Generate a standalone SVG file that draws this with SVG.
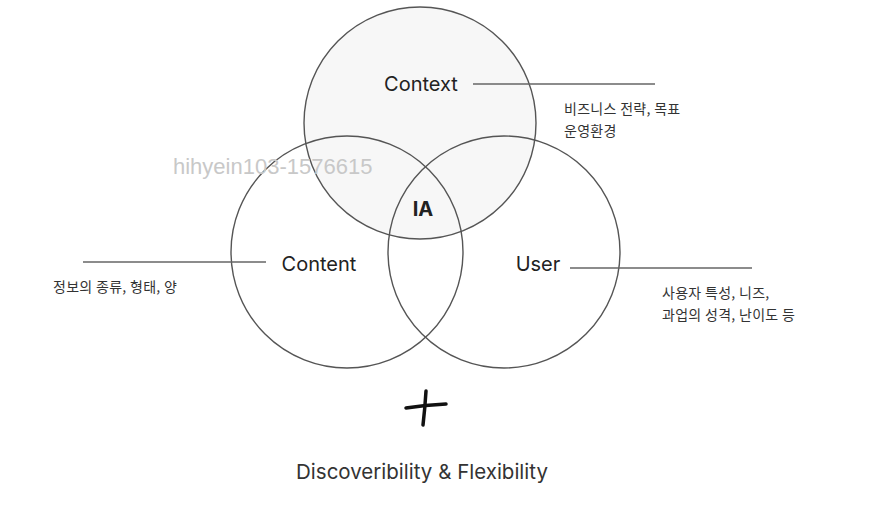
<svg xmlns="http://www.w3.org/2000/svg" width="882" height="509" viewBox="0 0 882 509">
<style>
.circ{stroke:#555;stroke-width:1.4;fill:none}
.lbl{font-family:Inter,"Noto Sans","Liberation Sans",sans-serif;font-size:20px;fill:#222;text-anchor:middle}
.ko{font-family:"Noto Sans CJK KR",sans-serif;font-size:14px;fill:#333;letter-spacing:0.3px}
.ln{stroke:#666;stroke-width:1.3}
</style>
<rect width="882" height="509" fill="#fff"/>
<g id="context">
<circle cx="420" cy="123" r="116" fill="#f7f7f7" stroke="#555" stroke-width="1.4"/>
<text class="lbl" x="421" y="91">Context</text>
</g>
<g id="content">
<circle class="circ" cx="347" cy="252" r="116"/>
<text class="lbl" x="319" y="271">Content</text>
</g>
<g id="user">
<circle class="circ" cx="504" cy="252" r="116"/>
<text class="lbl" x="538" y="271">User</text>
</g>
<g id="ia">
<text class="lbl" x="423" y="216" style="font-weight:bold">IA</text>
</g>
<g id="connectors">
<line class="ln" x1="473" y1="84" x2="655" y2="84"/>
<line class="ln" x1="83" y1="262" x2="266" y2="262"/>
<line class="ln" x1="570" y1="268" x2="752" y2="268"/>
</g>
<g id="notes">
<text class="ko" x="564" y="114">비즈니스 전략, 목표</text>
<text class="ko" x="564" y="136">운영환경</text>
<text class="ko" x="53" y="292">정보의 종류, 형태, 양</text>
<text class="ko" x="662" y="298">사용자 특성, 니즈,</text>
<text class="ko" x="662" y="320">과업의 성격, 난이도 등</text>
</g>
<text x="173" y="174" style="font-family:'Liberation Sans',Arial,sans-serif;font-size:22px;fill:#c8c8c8">hihyein103-1576615</text>
<g id="plus" fill="none" stroke="#111" stroke-width="3.5" stroke-linecap="round">
<path d="M406 408 Q425 405 446 404"/>
<path d="M426 391 Q425 408 423 425"/>
</g>
<text x="422" y="479" style="font-family:Inter,'Noto Sans',sans-serif;font-size:20.5px;fill:#333;text-anchor:middle">Discoveribility &amp; Flexibility</text>
</svg>
